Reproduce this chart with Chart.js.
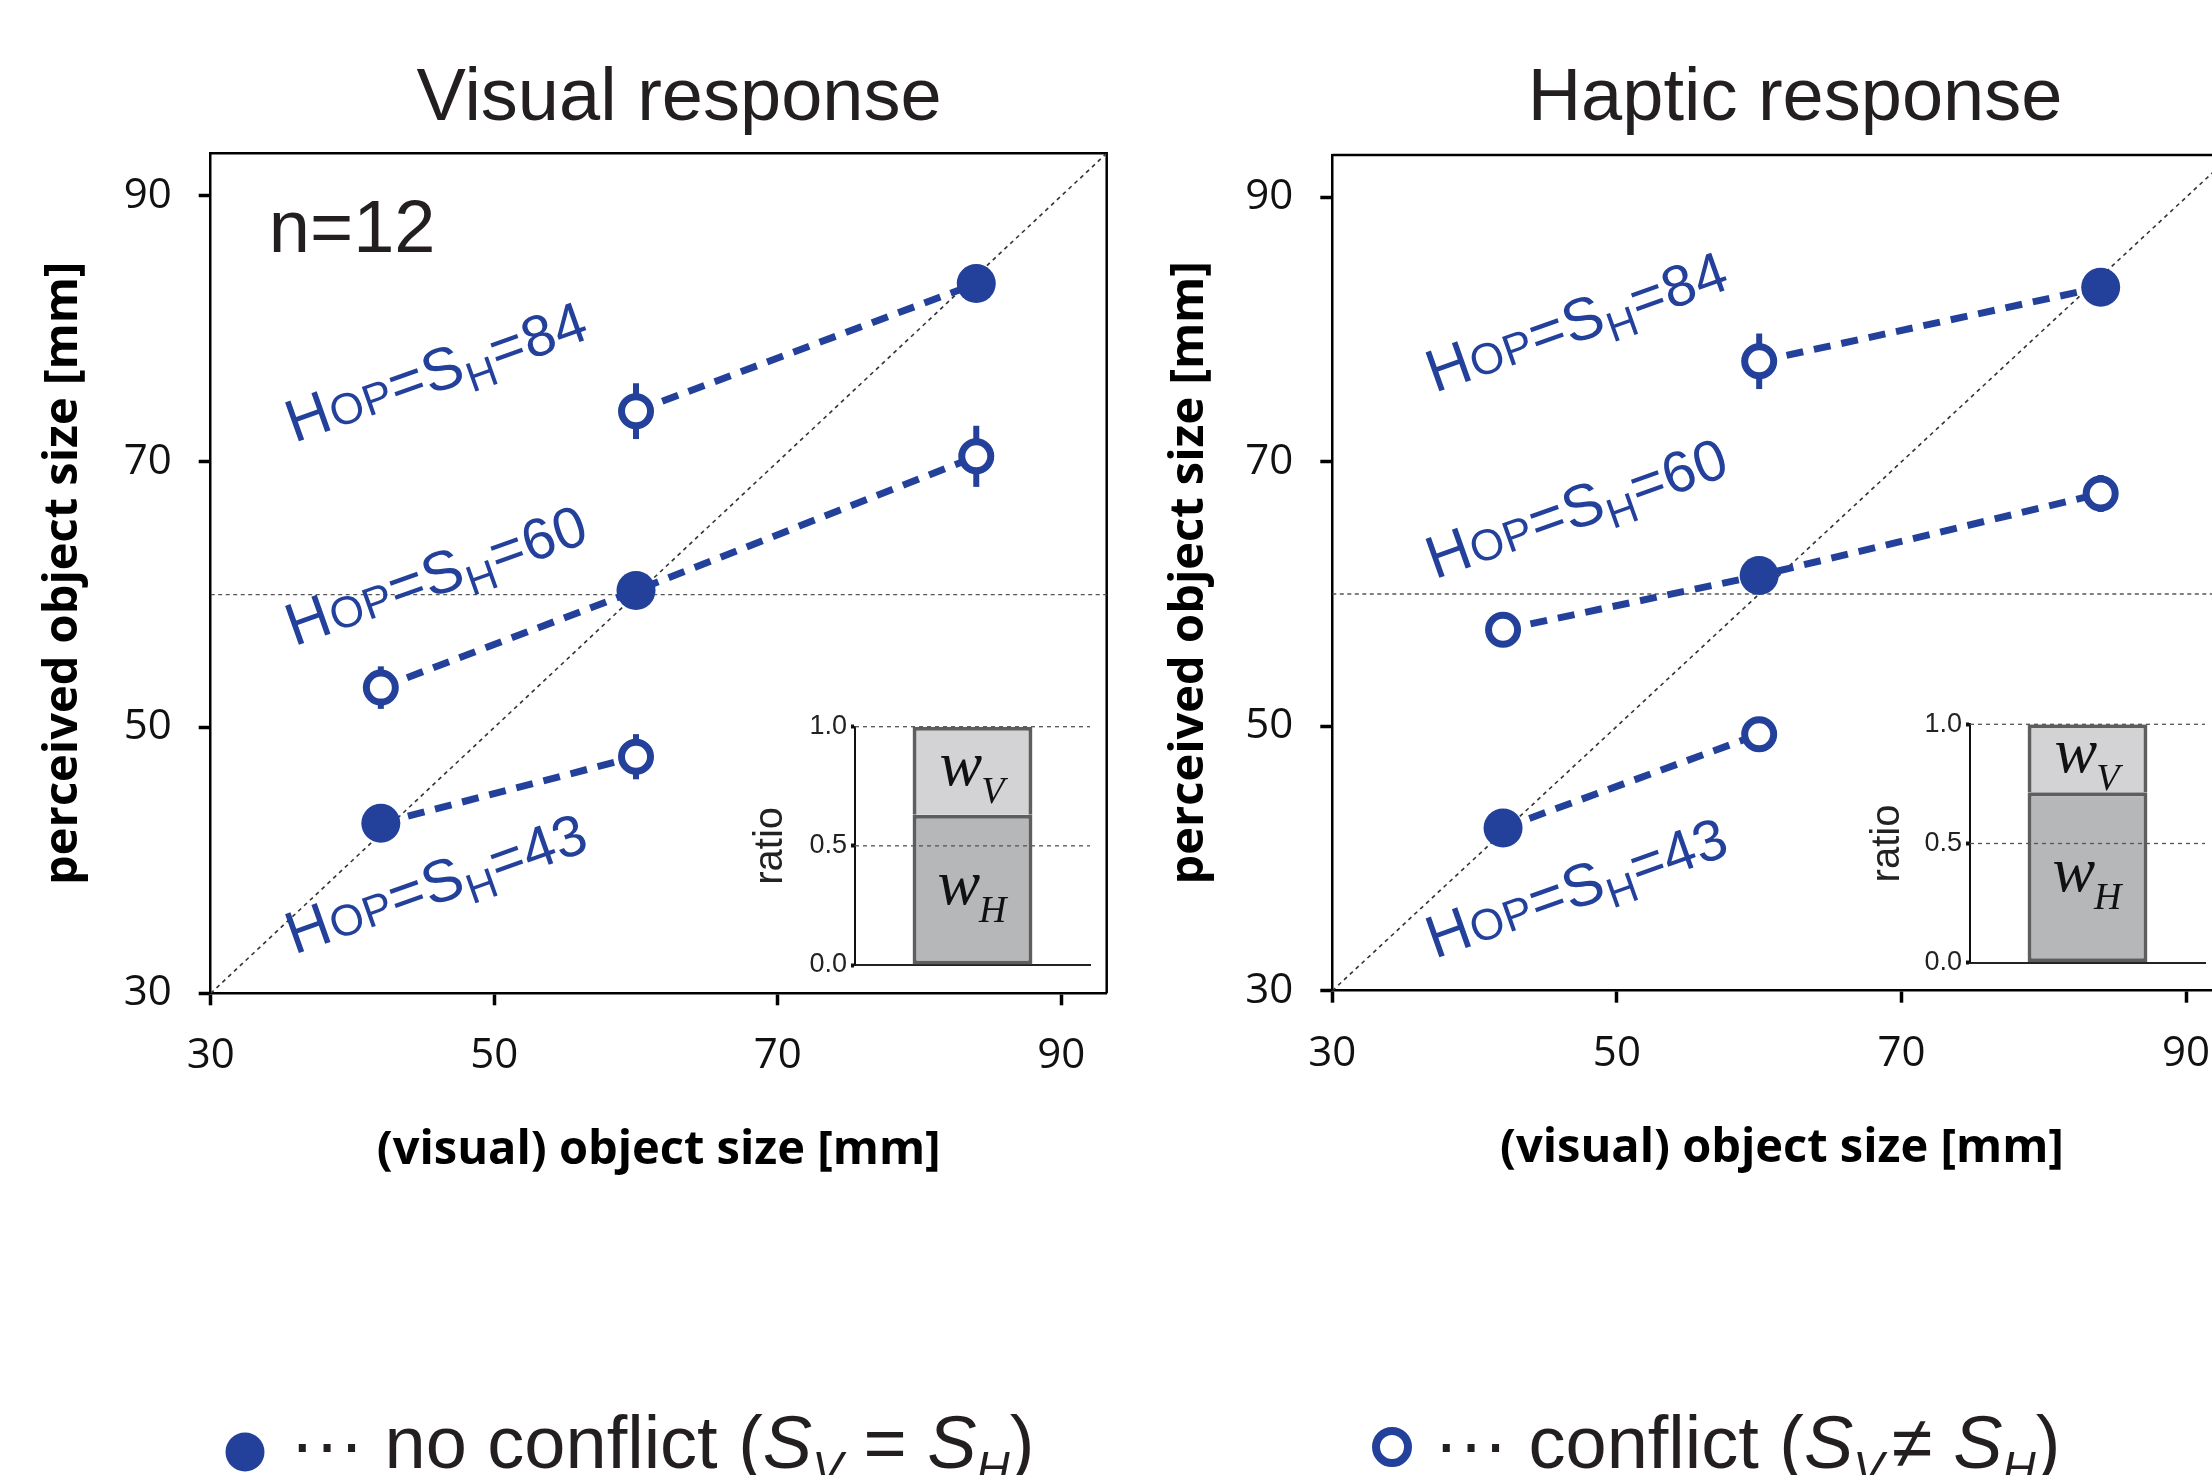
<!DOCTYPE html>
<html><head><meta charset="utf-8">
<script src="https://cdn.jsdelivr.net/npm/chart.js@4.4.1/dist/chart.umd.min.js"></script>
<style>
html,body{margin:0;padding:0;width:2212px;height:1475px;overflow:hidden;background:#fff;}
canvas{position:absolute;top:0;}
</style></head><body>
<canvas id="cV" width="1150" height="1475" style="left:0px;top:0px"></canvas>
<canvas id="cH" width="1150" height="1475" style="left:1120px;top:0px"></canvas>
<canvas id="iV" width="380" height="300" style="left:730px;top:690px"></canvas>
<canvas id="iH" width="380" height="300" style="left:1845px;top:690px"></canvas>
<script>
// ---------------- data ----------------
const axisTicks = [30, 50, 70, 90];
const axisMin = 30, axisMax = 93.2;
const ratioTicks = [0, 0.5, 1];
const refLineY = 60;
const objectSizes = [42, 60, 84];          // no-conflict points (S_V = S_H)
const groupSH = [43, 60, 84];              // haptic size of each no-conflict point
const visualNoConflict = [42.8, 60.3, 83.4];
const hapticNoConflict = [42.3, 61.4, 83.2];
const conflictX  = [60, 42, 84, 60];       // visual size in conflict trials
const conflictSH = [84, 60, 60, 43];       // haptic size (group)
const visualConflict    = [73.8, 53.0, 70.4, 47.8];
const visualConflictErr = [2.1, 1.6, 2.3, 1.7];
const hapticConflict    = [77.6, 57.3, 67.6, 49.4];
const hapticConflictErr = [2.1, 1.1, 1.4, 1.1];
const visualWH = [0.63],  visualWV = [0.37];
const hapticWH = [0.715], hapticWV = [0.285];
const sampleLabel = 'n=12';

// ---------------- styles ----------------
const BLUE = '#23419b';
const TXT = '#231f20';
const SANS = 'Liberation Sans';

function drawRich(ctx, x, y, angle, segs, ls) {
  ctx.save();
  ctx.translate(x, y);
  ctx.rotate(angle);
  ctx.textBaseline = 'alphabetic';
  ctx.textAlign = 'left';
  let cx = 0;
  for (const s of segs) {
    ctx.font = `${s.style || 'normal'} ${s.weight || 'normal'} ${s.size}px "${s.family || SANS}"`;
    ctx.fillStyle = s.color || TXT;
    if ('letterSpacing' in ctx) ctx.letterSpacing = ((s.ls !== undefined ? s.ls : ls) || 0) + 'px';
    ctx.fillText(s.t, cx, s.dy || 0);
    cx += ctx.measureText(s.t).width + (s.gap || 0);
  }
  ctx.restore();
  return cx;
}

function hopSegs(v) {
  return [
    {t: 'H', size: 60, color: BLUE},
    {t: 'OP', size: 44, color: BLUE},
    {t: '=S', size: 60, color: BLUE},
    {t: 'H', size: 42, color: BLUE, dy: 12},
    {t: '=' + v, size: 58, color: BLUE}
  ];
}

function buildPanel(id, P) {
  const noConf = objectSizes.map((x, i) => ({x, y: P.noConf[i]}));
  const conf = conflictX.map((x, i) => ({x, y: P.conf[i]}));
  const connectors = groupSH.map(g => {
    const pts = [];
    objectSizes.forEach((x, i) => { if (groupSH[i] === g) pts.push({x, y: P.noConf[i]}); });
    conflictX.forEach((x, i) => { if (conflictSH[i] === g) pts.push({x, y: P.conf[i]}); });
    pts.sort((a, b) => a.x - b.x);
    return {
      type: 'scatter', data: pts, showLine: true, borderColor: BLUE, borderWidth: 7,
      borderDash: [17, 11], pointRadius: 0, order: 5, fill: false
    };
  });
  const datasets = [
    {data: [{x: axisMin, y: axisMin}, {x: axisMax, y: axisMax}], showLine: true,
     borderColor: '#333', borderWidth: 1.6, borderDash: [4, 4], pointRadius: 0, order: 10},
    {data: [{x: axisMin, y: refLineY}, {x: axisMax, y: refLineY}], showLine: true,
     borderColor: '#555', borderWidth: 1.3, borderDash: [4, 3.5], pointRadius: 0, order: 10},
    ...connectors,
    {data: conf, pointRadius: 14.5, borderWidth: 7, borderColor: BLUE, backgroundColor: '#fff', order: 1},
    {data: noConf, pointRadius: 19.5, borderWidth: 0, backgroundColor: BLUE, order: 0}
  ];
  const W = 1150, H = 1475, XH = 200;
  const A = P.area;
  const plug = {
    id: 'deco' + id,
    beforeDatasetsDraw(chart) {
      const {ctx, chartArea: ca, scales: {x, y}} = chart;
      ctx.save();
      ctx.strokeStyle = '#000'; ctx.lineWidth = 2.5;
      ctx.beginPath(); ctx.moveTo(ca.left, ca.top); ctx.lineTo(ca.right, ca.top); ctx.lineTo(ca.right, ca.bottom); ctx.stroke();
      // error bars
      ctx.strokeStyle = BLUE; ctx.lineWidth = 6; ctx.lineCap = 'butt';
      conflictX.forEach((xv, i) => {
        const px = x.getPixelForValue(xv);
        ctx.beginPath();
        ctx.moveTo(px, y.getPixelForValue(P.conf[i] + P.err[i]));
        ctx.lineTo(px, y.getPixelForValue(P.conf[i] - P.err[i]));
        ctx.stroke();
      });
      ctx.restore();
    },
    afterDraw(chart) {
      const {ctx, scales: {x, y}} = chart;
      const off = P.offset;
      // title
      ctx.save();
      ctx.font = `74px "${SANS}"`; ctx.fillStyle = TXT; ctx.textAlign = 'center'; ctx.textBaseline = 'alphabetic';
      ctx.fillText(P.title, P.titleX - off, 120);
      ctx.restore();
      // group labels
      P.labels.forEach(L => {
        drawRich(ctx, x.getPixelForValue(L.x), y.getPixelForValue(L.y), -19.5 * Math.PI / 180, hopSegs(L.v), 0.5);
      });
      if (P.showN) {
        drawRich(ctx, x.getPixelForValue(34.1), y.getPixelForValue(85.75), 0, [{t: sampleLabel, size: 74}], 0);
      }
      // legend
      const Lg = P.legend;
      ctx.save();
      if (Lg.filled) {
        ctx.fillStyle = BLUE; ctx.beginPath(); ctx.arc(Lg.mx - off, Lg.my, 19.5, 0, Math.PI * 2); ctx.fill();
      } else {
        ctx.strokeStyle = BLUE; ctx.lineWidth = 8; ctx.beginPath(); ctx.arc(Lg.mx - off, Lg.my, 16, 0, Math.PI * 2); ctx.stroke();
      }
      ctx.restore();
      drawRich(ctx, Lg.tx - off, 1468, 0, Lg.segs, 0);
    }
  };
  return new Chart(document.getElementById(id), {
    type: 'scatter',
    data: {datasets},
    options: {
      responsive: false, animation: false, devicePixelRatio: 1,
      layout: {padding: {left: 0, top: A.top, right: W - (A.right - P.offset), bottom: H - A.bottom - XH}},
      plugins: {legend: {display: false}, tooltip: {enabled: false}, title: {display: false}},
      scales: {
        x: {
          type: 'linear', min: axisMin, max: axisMax,
          afterBuildTicks: s => { s.ticks = axisTicks.map(v => ({value: v})); },
          afterFit: s => { s.height = XH; },
          border: {display: true, color: '#000', width: 2.5},
          grid: {drawOnChartArea: false, drawTicks: true, tickLength: 12, tickWidth: 3.5, tickColor: '#000'},
          ticks: {font: {family: 'Open Sans', size: 42}, color: '#111', padding: 26, maxRotation: 0},
          title: {display: true, text: '(visual) object size [mm]', color: '#000',
                  font: {family: 'Open Sans', size: 47, weight: 'bold'}, padding: {top: 0, bottom: 14}}
        },
        y: {
          type: 'linear', min: axisMin, max: axisMax,
          afterBuildTicks: s => { s.ticks = axisTicks.map(v => ({value: v})); },
          afterFit: s => { s.width = A.left - P.offset; },
          border: {display: true, color: '#000', width: 2.5},
          grid: {drawOnChartArea: false, drawTicks: true, tickLength: 12, tickWidth: 3.5, tickColor: '#000'},
          ticks: {font: {family: 'Open Sans', size: 42}, color: '#111', padding: 27},
          title: {display: true, text: 'perceived object size [mm]', color: '#000',
                  font: {family: 'Open Sans', size: 47, weight: 'bold'}, padding: {top: P.yTitlePad, bottom: 0}}
        }
      }
    },
    plugins: [plug]
  });
}

function legendSegs(rel) {
  return [
    {t: '\u00b7\u00b7\u00b7 ' + (rel === '=' ? 'no conflict (' : 'conflict ('), size: 74},
    {t: 'S', size: 74, style: 'italic'},
    {t: 'V', size: 46, style: 'italic', dy: 16, gap: rel === '=' ? 0 : 8},
    {t: rel === '=' ? ' = ' : '\u2260 ', size: 74},
    {t: 'S', size: 74, style: 'italic'},
    {t: 'H', size: 46, style: 'italic', dy: 16},
    {t: ')', size: 74}
  ];
}

buildPanel('cV', {
  offset: 0, area: {left: 210.7, top: 153.3, right: 1106.7, bottom: 993.3},
  noConf: visualNoConflict, conf: visualConflict, err: visualConflictErr,
  title: 'Visual response', titleX: 679, yTitlePad: 35, showN: true,
  labels: [{x: 35.9, y: 71.4, v: 84}, {x: 35.9, y: 56.1, v: 60}, {x: 35.9, y: 32.9, v: 43}],
  legend: {filled: true, mx: 245, my: 1452, tx: 290, segs: legendSegs('=')}
});
buildPanel('cH', {
  offset: 1120, area: {left: 1332.3, top: 155, right: 2231.6, bottom: 990.7},
  noConf: hapticNoConflict, conf: hapticConflict, err: hapticConflictErr,
  title: 'Haptic response', titleX: 1795, yTitlePad: 41, showN: false,
  labels: [{x: 37.2, y: 75.2, v: 84}, {x: 37.2, y: 61.1, v: 60}, {x: 37.2, y: 32.4, v: 43}],
  legend: {filled: false, mx: 1392, my: 1447, tx: 1434, segs: legendSegs('!=')}
});

function buildInset(id, P) {
  const W = 380, H = 300, XH = 10;
  const A = P.area;
  const plug = {
    id: 'inset' + id,
    afterDatasetsDraw(chart) {
      const {ctx, chartArea: ca, scales: {y}} = chart;
      ctx.save();
      ctx.strokeStyle = '#555'; ctx.lineWidth = 1.3; ctx.setLineDash([4, 4]);
      ratioTicks.filter(v => v > 0).forEach(v => {
        const py = y.getPixelForValue(v);
        ctx.beginPath(); ctx.moveTo(ca.left, py); ctx.lineTo(ca.right, py); ctx.stroke();
      });
      ctx.restore();
      const subs = ['H', 'V'];
      [0, 1].forEach(di => {
        const bar = chart.getDatasetMeta(di).data[0];
        const cy = (bar.y + bar.base) / 2 + 14;
        ctx.save();
        ctx.font = `italic 64px "Liberation Serif"`;
        const w1 = ctx.measureText('w').width;
        ctx.font = `italic 38px "Liberation Serif"`;
        const w2 = ctx.measureText(subs[di]).width;
        const sx = bar.x - (w1 + w2) / 2;
        ctx.fillStyle = '#111'; ctx.textBaseline = 'alphabetic';
        ctx.font = `italic 64px "Liberation Serif"`;
        ctx.fillText('w', sx, cy);
        ctx.font = `italic 38px "Liberation Serif"`;
        ctx.fillText(subs[di], sx + w1 - 1, cy + 18);
        ctx.restore();
      });
    }
  };
  return new Chart(document.getElementById(id), {
    type: 'bar',
    data: {labels: [''], datasets: [
      {label: 'wH', data: P.wH, backgroundColor: '#b6b7b9', borderColor: '#5e5e5e', borderWidth: 4,
       borderSkipped: false, stack: 's', barPercentage: 0.51, categoryPercentage: 1},
      {label: 'wV', data: P.wV, backgroundColor: '#d3d3d5', borderColor: '#5e5e5e', borderWidth: 4,
       borderSkipped: 'bottom', stack: 's', barPercentage: 0.51, categoryPercentage: 1}
    ]},
    options: {
      responsive: false, animation: false, devicePixelRatio: 1,
      layout: {padding: {left: 0, top: A.top, right: W - A.right, bottom: H - A.bottom - XH}},
      plugins: {legend: {display: false}, tooltip: {enabled: false}},
      scales: {
        x: {stacked: true, afterFit: s => { s.height = XH; },
            ticks: {display: false}, grid: {drawOnChartArea: false, drawTicks: false},
            border: {display: true, color: '#222', width: 2}},
        y: {stacked: true, min: 0, max: 1,
            afterBuildTicks: s => { s.ticks = ratioTicks.map(v => ({value: v})); },
            afterFit: s => { s.width = A.left; },
            ticks: {font: {family: SANS, size: 27}, color: '#222', padding: 4, callback: v => Number(v).toFixed(1)},
            grid: {drawOnChartArea: false, drawTicks: true, tickLength: 4, tickWidth: 4, tickColor: '#111'},
            border: {display: true, color: '#111', width: 2},
            title: {display: true, text: 'ratio', color: '#222', font: {family: SANS, size: 40}, padding: {top: P.tPad, bottom: 0}}}
      }
    },
    plugins: [plug]
  });
}

buildInset('iV', {area: {left: 125, top: 36.7, right: 360, bottom: 275}, wH: visualWH, wV: visualWV, tPad: 17});
buildInset('iH', {area: {left: 125, top: 34.3, right: 360, bottom: 272.7}, wH: hapticWH, wV: hapticWV, tPad: 19});
</script>
</body></html>
